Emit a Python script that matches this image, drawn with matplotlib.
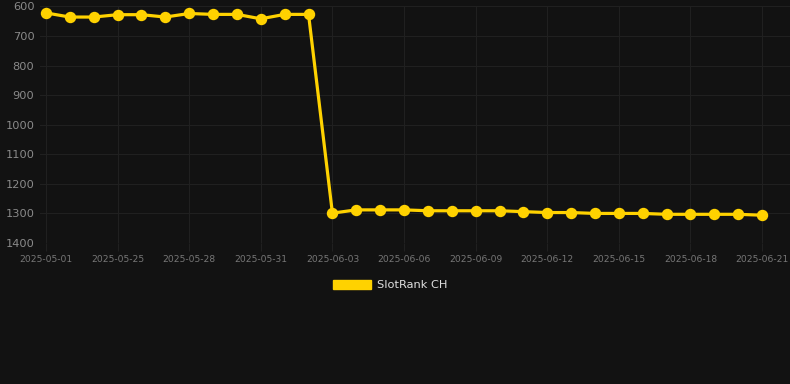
import matplotlib
matplotlib.use("Agg")
import matplotlib.pyplot as plt
from matplotlib.patches import Patch

dates = ["2025-05-01", "2025-05-23", "2025-05-24"] + \
    [f"2025-05-{d:02d}" for d in range(25, 32)] + \
    [f"2025-06-{d:02d}" for d in range(1, 22)]
rank = [622, 636, 636, 628, 628, 636, 624, 627, 627, 642, 627, 627,
        1299, 1288, 1288, 1288, 1291, 1291, 1291, 1291, 1294, 1297, 1297,
        1300, 1300, 1300, 1303, 1303, 1303, 1303, 1306]
series_name = "SlotRank CH"
yticks = [600, 700, 800, 900, 1000, 1100, 1200, 1300, 1400]

BG = "#121212"
LINE = "#FFD200"
GRID = "#202020"

W, H = 790, 384
fig = plt.figure(figsize=(W / 100, H / 100), dpi=100, facecolor=BG)
left, right, top, bottom = 40, 790, 6.4, 243
ax = fig.add_axes([left / W, 1 - bottom / H, (right - left) / W, (bottom - top) / H])
ax.set_facecolor(BG)

x = list(range(len(dates)))
ax.plot(x, rank, color=LINE, lw=2.3, marker="o", ms=7.2, mfc=LINE, mec=LINE,
        solid_joinstyle="round", zorder=3, clip_on=False)

ax.set_ylim(1400, 600)
ax.set_xlim(-0.25, 31.17)
ax.set_yticks(yticks)
ax.set_yticklabels([str(v) for v in yticks])
tick_idx = list(range(0, len(dates), 3))
ax.set_xticks(tick_idx)
ax.set_xticklabels([dates[i] for i in tick_idx])

for s in ax.spines.values():
    s.set_visible(False)
ax.grid(True, color=GRID, lw=0.8)
ax.tick_params(axis="y", length=0, pad=4, labelsize=8.2, labelcolor="#8a8a8a")
ax.tick_params(axis="x", length=6, color=GRID, pad=3, labelsize=6.6, labelcolor="#777777")

leg = fig.legend(handles=[Patch(facecolor=LINE, edgecolor=LINE)], labels=[series_name],
                 loc="center", bbox_to_anchor=(390 / W, 1 - 285 / H), frameon=False,
                 handlelength=3.4, handleheight=0.95, handletextpad=0.5,
                 fontsize=8.2, labelcolor="#e0e0e0")

fig.savefig("out.png", dpi=100, facecolor=BG)
